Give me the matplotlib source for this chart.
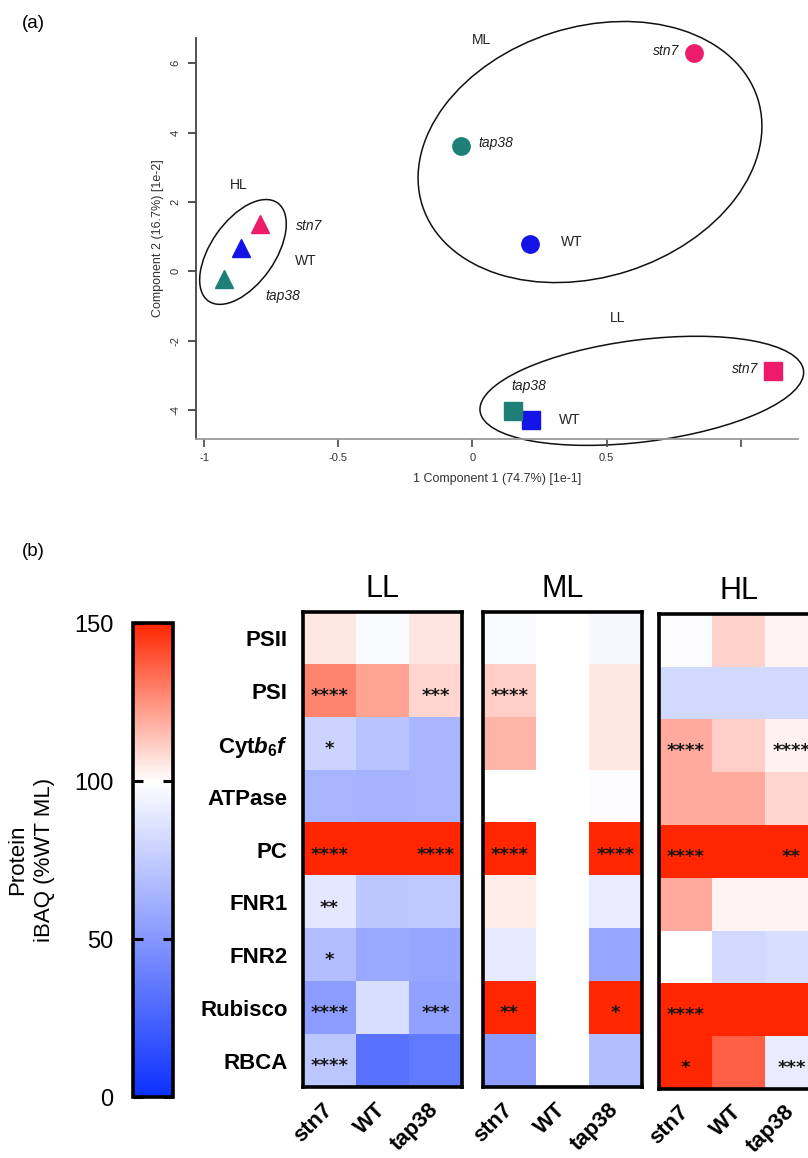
import numpy as np
import matplotlib
matplotlib.use("Agg")
import matplotlib.pyplot as plt
from matplotlib import transforms
from matplotlib.patches import Ellipse
from matplotlib.colors import LinearSegmentedColormap, Normalize
from matplotlib.cm import ScalarMappable

plt.rcParams['font.family'] = ['Liberation Sans', 'DejaVu Sans']
plt.rcParams['mathtext.fontset'] = 'custom'
plt.rcParams['mathtext.rm'] = 'Liberation Sans:bold'
plt.rcParams['mathtext.it'] = 'Liberation Sans:italic:bold'
plt.rcParams['mathtext.bf'] = 'Liberation Sans:bold'

# ---- (a) PCA scores ----
genotypes = ['stn7', 'WT', 'tap38']
geno_colors = ['#EC1C6B', '#1414E8', '#1D7F76']
geno_italic = [True, False, True]

pc1_LL = [1.12, 0.22, 0.15]
pc2_LL = [-2.87, -4.29, -4.02]
pc1_ML = [0.825, 0.213, -0.041]
pc2_ML = [6.29, 0.79, 3.61]
pc1_HL = [-0.793, -0.861, -0.925]
pc2_HL = [1.36, 0.66, -0.23]

# ---- (b) heatmap, protein iBAQ as % of WT ML ----
rows = ['PSII', 'PSI', r'Cyt$\mathit{b}_{6}\mathit{f}$', 'ATPase', 'PC',
        'FNR1', 'FNR2', 'Rubisco', 'RBCA']

ll_vals = [[105, 98, 106],
           [128, 121, 109],
           [79, 71, 65],
           [64, 63, 64],
           [165, 165, 165],
           [89, 73, 74],
           [69, 59, 57],
           [53, 84, 55],
           [73, 32, 36]]
ml_vals = [[98, 100, 97],
           [111, 100, 105],
           [117, 100, 105],
           [100, 100, 99],
           [165, 100, 165],
           [104, 100, 91],
           [90, 100, 57],
           [165, 100, 165],
           [53, 100, 69]]
hl_vals = [[99, 110, 102],
           [82, 82, 82],
           [119, 111, 103],
           [119, 119, 109],
           [165, 165, 165],
           [119, 102, 102],
           [100, 82, 84],
           [165, 165, 165],
           [165, 136, 91]]

ll_stars = [['', '', ''],
            ['****', '', '***'],
            ['*', '', ''],
            ['', '', ''],
            ['****', '', '****'],
            ['**', '', ''],
            ['*', '', ''],
            ['****', '', '***'],
            ['****', '', '']]
ml_stars = [['', '', ''],
            ['****', '', ''],
            ['', '', ''],
            ['', '', ''],
            ['****', '', '****'],
            ['', '', ''],
            ['', '', ''],
            ['**', '', '*'],
            ['', '', '']]
hl_stars = [['', '', ''],
            ['', '', ''],
            ['****', '', '****'],
            ['', '', ''],
            ['****', '', '**'],
            ['', '', ''],
            ['', '', ''],
            ['****', '', ''],
            ['*', '', '***']]

W, H = 808, 1158
fig = plt.figure(figsize=(W / 100, H / 100), dpi=100)

# ---------------- (a) ----------------
ax = fig.add_axes([196 / W, 1 - 439 / H, 602 / W, 401 / H])
ax.set_xlim(-1.030, 1.213)
ax.set_ylim(-4.84, 6.73)

groups = [
    ('LL', 's', 13, pc1_LL, pc2_LL,
     [(-15, 2, 'right'), (27, 0, 'left'), (-1, 25, 'left')],
     (0.542, -1.35), (0.631, -3.45, 326, 102, 7.2)),
    ('ML', 'o', 12.5, pc1_ML, pc2_ML,
     [(-15, 2, 'right'), (31, 2, 'left'), (17, 3, 'left')],
     (0.032, 6.67), (0.438, 3.44, 352, 250, 17.7)),
    ('HL', '^', 13, pc1_HL, pc2_HL,
     [(36, -2, 'left'), (54, -13, 'left'), (41, -17, 'left')],
     (-0.872, 2.49), (-0.855, 0.557, 120, 64, 54.9)),
]

for name, mk, ms, xs, ys, offs, gpos, ell in groups:
    for k in range(3):
        ax.plot(xs[k], ys[k], marker=mk, ms=ms, color=geno_colors[k],
                ls='none', clip_on=False, zorder=3)
        dx, dy, ha = offs[k]
        ax.annotate(genotypes[k], (xs[k], ys[k]), xytext=(dx, dy),
                    textcoords='offset pixels', ha=ha, va='center',
                    fontsize=10, style='italic' if geno_italic[k] else 'normal',
                    color='#222222')
    ax.text(gpos[0], gpos[1], name, ha='center', va='center', fontsize=10,
            color='#222222')
    cx, cy, ew, eh, ang = ell
    tr = transforms.ScaledTranslation(cx, cy, ax.transData)
    ax.add_patch(Ellipse((0, 0), ew, eh, angle=ang, transform=tr, fill=False,
                         ec='#111111', lw=1.1, clip_on=False))

for s in ['top', 'right']:
    ax.spines[s].set_visible(False)
ax.spines['left'].set_color('#444444')
ax.spines['bottom'].set_color('#9a9a9a')
ax.spines['left'].set_linewidth(1.3)
ax.spines['bottom'].set_linewidth(1.3)
ax.set_xticks([-1, -0.5, 0, 0.5, 1])
ax.set_xticklabels(['-1', '-0.5', '0', '0.5', ''])
ax.set_yticks([-4, -2, 0, 2, 4, 6])
ax.set_yticklabels(['-4', '-2', '0', '2', '4', '6'], rotation=90, va='center')
ax.tick_params(axis='x', length=6, width=1.3, color='#555555', labelsize=8,
               pad=4, labelcolor='#333333')
ax.tick_params(axis='y', length=6, width=1.3, color='#444444', labelsize=8,
               pad=5, labelcolor='#333333')
ax.set_xlabel('1 Component 1 (74.7%) [1e-1]', fontsize=9, labelpad=7,
              color='#333333')
ax.set_ylabel('Component 2 (16.7%) [1e-2]', fontsize=9, labelpad=5,
              color='#333333')

fig.text(22 / W, 1 - 23 / H, '(a)', fontsize=13.5, va='center')
fig.text(22 / W, 1 - 551 / H, '(b)', fontsize=13.5, va='center')

# ---------------- (b) ----------------
cmap = LinearSegmentedColormap.from_list(
    'iBAQ', [(0, '#0B30FF'), (100 / 150, '#FFFFFF'), (1, '#FF2600')])
norm = Normalize(0, 150)


def draw_panel(ax, vals, stars, title, show_rows):
    ax.imshow(np.array(vals), cmap=cmap, norm=norm, aspect='auto',
              interpolation='nearest')
    for i in range(len(rows)):
        for j in range(3):
            if stars[i][j]:
                ax.text(j, i + 0.1, stars[i][j], ha='center', va='center',
                        fontsize=13, family='DejaVu Sans', fontweight='bold',
                        color='#151515')
    ax.set_xticks(range(3))
    ax.set_xticklabels(genotypes, rotation=45, ha='right', va='center',
                       rotation_mode='anchor', fontsize=16, fontweight='bold')
    ax.set_yticks(range(len(rows)))
    if show_rows:
        ax.set_yticklabels(rows, fontsize=16, fontweight='bold')
    else:
        ax.set_yticklabels([])
    ax.tick_params(length=0)
    ax.tick_params(axis='x', pad=14)
    ax.tick_params(axis='y', pad=11)
    for s in ax.spines.values():
        s.set_linewidth(2.6)
    ax.set_title(title, fontsize=22, pad=11)


ax_ll = fig.add_axes([303 / W, 1 - 1087 / H, 159 / W, 475 / H])
ax_ml = fig.add_axes([483 / W, 1 - 1087 / H, 159 / W, 475 / H])
ax_hl = fig.add_axes([659 / W, 1 - 1089 / H, 159 / W, 475 / H])
draw_panel(ax_ll, ll_vals, ll_stars, 'LL', True)
draw_panel(ax_ml, ml_vals, ml_stars, 'ML', False)
draw_panel(ax_hl, hl_vals, hl_stars, 'HL', False)

cax = fig.add_axes([133 / W, 1 - 1097 / H, 40 / W, 474 / H])
cb = fig.colorbar(ScalarMappable(norm=norm, cmap=cmap), cax=cax,
                  ticks=[0, 50, 100, 150])
cb.outline.set_linewidth(2.6)
cax.tick_params(axis='y', which='both', left=True, right=True,
                labelleft=True, labelright=False, direction='in',
                length=7, width=2.2, labelsize=17, pad=14)
cax.yaxis.set_label_position('left')
cb.set_label('Protein\niBAQ (%WT ML)', fontsize=16, labelpad=14,
             linespacing=1.35)

fig.savefig('out.png', dpi=100)
